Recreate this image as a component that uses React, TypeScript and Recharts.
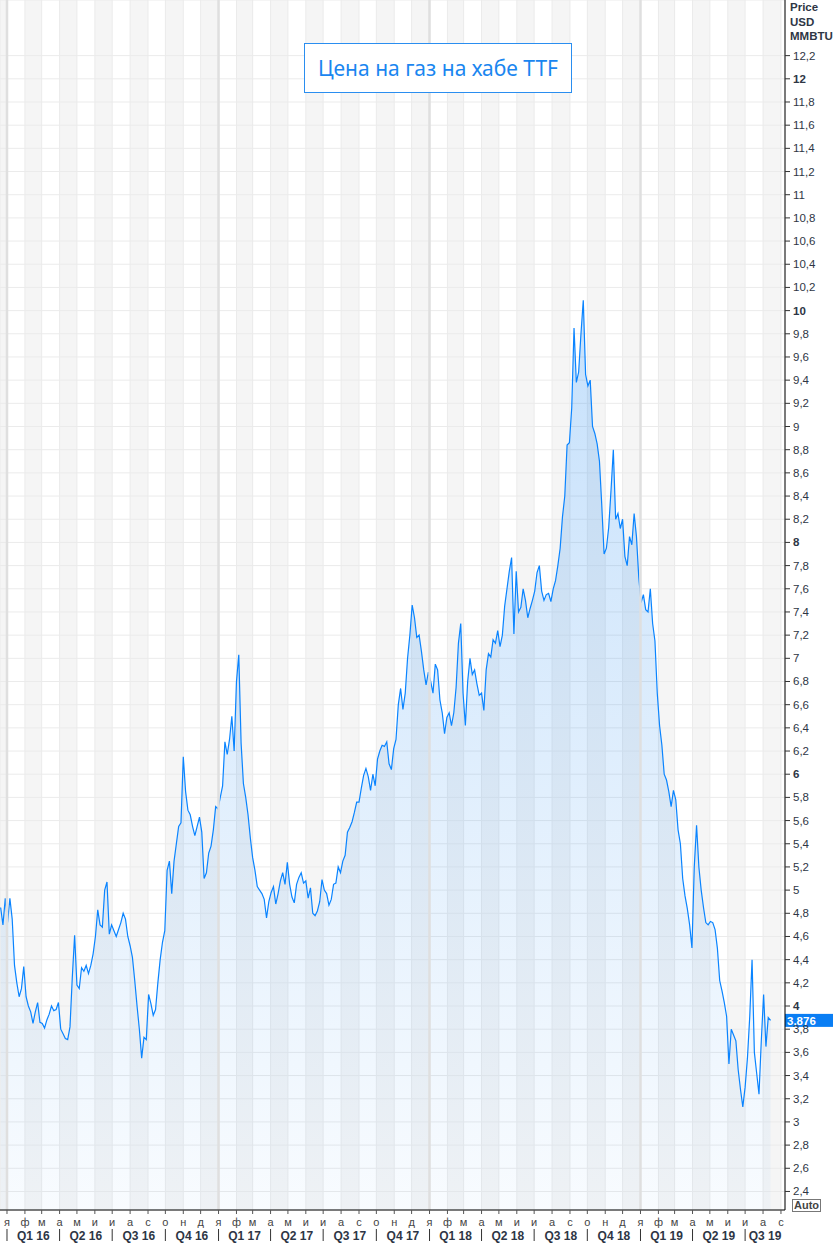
import { Area, AreaChart, CartesianGrid, ReferenceLine, XAxis, YAxis } from 'recharts';

const DAY_MS = 86400000;
const EPOCH = Date.UTC(2016, 0, 1);
const SERIES_START = Date.UTC(2015, 11, 21);
const STEP_DAYS = 4;

// TTF price, USD/MMBTU, one reading every 4 days from 21 Dec 2015
const prices2016 = [
  4.85, 4.7, 4.93, 4.72, 4.93, 4.75, 4.35, 4.2, 4.08, 4.15,
  4.34, 4.08, 4.0, 3.95, 3.85, 3.95, 4.03, 3.86, 3.85, 3.81,
  3.88, 3.93, 4.0, 3.96, 3.97, 4.03, 3.8, 3.76, 3.72, 3.71,
  3.82, 4.25, 4.61, 4.18, 4.15, 4.33, 4.3, 4.35, 4.28, 4.35,
  4.45, 4.6, 4.83, 4.7, 4.68, 5.0, 5.07, 4.62, 4.7, 4.65,
  4.6, 4.66, 4.72, 4.8, 4.75, 4.6, 4.52, 4.42, 4.22, 4.0,
  3.8, 3.55, 3.73, 3.71, 4.1, 4.02, 3.92, 3.97, 4.2, 4.4,
  4.55, 4.65, 5.17, 5.25, 4.97, 5.25, 5.4, 5.55, 5.58, 6.15,
  5.85, 5.69, 5.65, 5.55, 5.47, 5.55, 5.63, 5.5, 5.1, 5.15,
  5.32, 5.38, 5.52, 5.72, 5.7,
];
const prices2017 = [
  5.8, 5.9, 6.28, 6.17, 6.3,
  6.5, 6.2, 6.8, 7.03, 6.27, 5.92, 5.8, 5.65, 5.45, 5.28,
  5.17, 5.03, 5.0, 4.97, 4.92, 4.76, 4.9, 4.98, 5.03, 4.88,
  4.97, 5.08, 5.15, 5.05, 5.24, 5.05, 4.94, 4.89, 5.05, 5.11,
  5.15, 5.06, 5.08, 4.93, 5.02, 4.8, 4.78, 4.82, 4.9, 5.09,
  5.0, 4.97, 4.87, 4.92, 5.05, 5.06, 5.2, 5.15, 5.25, 5.3,
  5.5, 5.54, 5.59, 5.67, 5.76, 5.76, 5.88, 5.99, 6.05, 5.98,
  5.86, 6.0, 5.9, 6.13, 6.2, 6.25, 6.24, 6.28, 6.09, 6.04,
  6.22, 6.3, 6.6, 6.74, 6.56, 6.7, 7.0, 7.2, 7.46, 7.35,
  7.18, 7.2, 7.06, 6.9, 6.77, 6.88,
];
const prices2018 = [
  6.8, 6.7, 6.95, 6.9,
  6.64, 6.53, 6.35, 6.49, 6.53, 6.42, 6.53, 6.75, 7.13, 7.3,
  6.7, 6.42, 6.8, 7.0, 6.86, 6.9, 6.78, 6.68, 6.7, 6.55,
  6.9, 7.04, 7.01, 7.16, 7.13, 7.24, 7.1, 7.2, 7.45, 7.6,
  7.75, 7.87, 7.21, 7.75, 7.4, 7.44, 7.6, 7.5, 7.35, 7.43,
  7.5, 7.58, 7.74, 7.8, 7.58, 7.5, 7.55, 7.56, 7.49, 7.6,
  7.67, 7.8, 7.95, 8.22, 8.4, 8.84, 8.86, 9.16, 9.85, 9.38,
  9.47, 9.8, 10.09, 9.45, 9.35, 9.4, 9.0, 8.94, 8.85, 8.7,
  8.32, 7.9, 7.95, 8.13, 8.45, 8.8, 8.2, 8.25, 8.12, 8.2,
  7.88, 7.8, 8.05, 7.98, 8.25, 8.05, 7.7,
];
const prices2019 = [
  7.48, 7.55, 7.42,
  7.4, 7.6, 7.3, 7.15, 6.7, 6.42, 6.25, 6.0, 5.95, 5.85,
  5.72, 5.86, 5.78, 5.52, 5.4, 5.1, 4.95, 4.84, 4.7, 4.5,
  5.2, 5.56, 5.2, 5.0, 4.85, 4.72, 4.7, 4.73, 4.72, 4.66,
  4.5, 4.22, 4.13, 4.03, 3.91, 3.5, 3.8, 3.75, 3.7, 3.45,
  3.28, 3.13, 3.3, 3.55, 3.91, 4.4, 3.6, 3.42, 3.24, 3.7,
  4.1, 3.65, 3.9, 3.876,
];
const lastPrice = 3.876;

const monthLetters = ['я', 'ф', 'м', 'а', 'м', 'и', 'и', 'а', 'с', 'о', 'н', 'д'];
const quarterNames = ['Q1', 'Q2', 'Q3', 'Q4'];
const years = [2016, 2017, 2018, 2019];
const unitLines = ['Price', 'USD', 'MMBTU'];
const title = 'Цена на газ на хабе TTF';

const X_MIN = -12.1;
const X_MAX = 1346;
const Y_MIN = 2.24;
const Y_MAX = 12.68;

const dayOf = (y: number, m: number) => (Date.UTC(y, m, 1) - EPOCH) / DAY_MS;

const data = [...prices2016, ...prices2017, ...prices2018, ...prices2019].map((price, i) => ({
  day: (SERIES_START - EPOCH) / DAY_MS + i * STEP_DAYS,
  price,
}));

const monthTicks: number[] = [];
const quarterStarts: number[] = [];
const quarterMids: number[] = [];
const quarterLabelByDay: Record<string, string> = {};
years.forEach((y) => {
  for (let m = 0; m < 12; m++) {
    const d = dayOf(y, m);
    if (d <= X_MAX) monthTicks.push(d);
    if (m % 3 === 0 && d <= X_MAX) {
      quarterStarts.push(d);
      const mid = (d + Math.min(dayOf(y, m + 3), X_MAX)) / 2;
      quarterMids.push(mid);
      quarterLabelByDay[String(mid)] = `${quarterNames[m / 3]} ${String(y).slice(2)}`;
    }
  }
});
const quarterTicks = [...quarterStarts, ...quarterMids].sort((a, b) => a - b);

const priceTicks = Array.from({ length: 50 }, (_, i) => Math.round((2.4 + i * 0.2) * 10) / 10);

const FONT = '"Liberation Sans", Arial, sans-serif';

function formatPrice(v: number, digits = 1) {
  return Number.isInteger(v) ? String(v) : v.toFixed(digits).replace('.', ',');
}

function PriceTick({ x, y, payload }: any) {
  const v = payload.value;
  const bold = Number.isInteger(v) && v % 2 === 0;
  return (
    <text x={x} y={y} dy={4} fontSize={11.5} fontFamily={FONT} fontWeight={bold ? 700 : 400} fill="#2e3645">
      {formatPrice(v)}
    </text>
  );
}

function MonthTick({ x, y, payload }: any) {
  const m = new Date(EPOCH + payload.value * DAY_MS).getUTCMonth();
  return (
    <text x={x} y={y + 11} textAnchor="middle" fontSize={11} fontFamily={FONT} fill="#444">
      {monthLetters[m]}
    </text>
  );
}

function QuarterTick({ x, y, payload }: any) {
  const label = quarterLabelByDay[String(payload.value)];
  if (!label) {
    return <line x1={x} x2={x} y1={y + 5} y2={y + 17} stroke="#333" strokeWidth={1} />;
  }
  return (
    <text x={x} y={y + 16} textAnchor="middle" fontSize={12} fontWeight={700} fontFamily={FONT} fill="#2e3645">
      {label}
    </text>
  );
}

function LastPriceTag({ viewBox }: any) {
  const x = viewBox.x + viewBox.width;
  const y = viewBox.y;
  return (
    <g>
      <rect x={x} y={y - 6.5} width={48} height={13} fill="#0a7ef4" />
      <text x={x + 2} y={y + 4.5} fontSize={11.5} fontWeight={700} fontFamily={FONT} fill="#fff">
        {formatPrice(lastPrice, 3)}
      </text>
    </g>
  );
}

export default function App() {
  return (
    <div style={{ position: 'absolute', left: 0, top: 0, width: 833, height: 1244, background: '#fff', overflow: 'hidden' }}>
      <AreaChart width={833} height={1244} data={data} margin={{ top: 0, right: 0, bottom: 0, left: 0 }}>
        <defs>
          <linearGradient id="ttfFill" x1="0" y1="0" x2="0" y2="1">
            <stop offset="0%" stopColor="#1a85f0" stopOpacity={0.25} />
            <stop offset="100%" stopColor="#1a85f0" stopOpacity={0.03} />
          </linearGradient>
        </defs>
        <CartesianGrid
          xAxisId="m"
          stroke="#ebebeb"
          verticalFill={['#f5f5f5', '#ffffff']}
          fillOpacity={1}
        />
        <XAxis
          xAxisId="m"
          type="number"
          dataKey="day"
          domain={[X_MIN, X_MAX]}
          allowDataOverflow
          ticks={monthTicks}
          interval={0}
          height={14}
          tickSize={4}
          tickMargin={1}
          axisLine={{ stroke: '#000' }}
          tickLine={{ stroke: '#555' }}
          tick={<MonthTick />}
        />
        <XAxis
          xAxisId="q"
          type="number"
          dataKey="day"
          domain={[X_MIN, X_MAX]}
          allowDataOverflow
          ticks={quarterTicks}
          interval={0}
          height={20}
          tickSize={0}
          tickMargin={0}
          axisLine={false}
          tickLine={false}
          tick={<QuarterTick />}
        />
        <YAxis
          orientation="right"
          type="number"
          domain={[Y_MIN, Y_MAX]}
          allowDataOverflow
          ticks={priceTicks}
          interval={0}
          width={48}
          tickSize={5}
          tickMargin={3}
          axisLine={{ stroke: '#000' }}
          tickLine={{ stroke: '#333' }}
          tick={<PriceTick />}
        />
        {years.map((y) => (
          <ReferenceLine key={y} xAxisId="m" x={dayOf(y, 0)} stroke="#dfdfdf" strokeWidth={2.5} />
        ))}
        <Area
          xAxisId="m"
          type="linear"
          dataKey="price"
          stroke="#0a84ff"
          strokeWidth={1.2}
          fill="url(#ttfFill)"
          fillOpacity={1}
          dot={false}
          activeDot={false}
          isAnimationActive={false}
        />
        <ReferenceLine xAxisId="m" y={lastPrice} stroke="none" label={<LastPriceTag />} />
      </AreaChart>

      <div
        style={{
          position: 'absolute',
          left: 304,
          top: 43,
          width: 266,
          height: 48,
          border: '1px solid #2a8ef0',
          background: '#fff',
          color: '#1a86f0',
          fontFamily: '"Noto Sans", sans-serif',
          fontSize: 21,
          lineHeight: '48px',
          textAlign: 'center',
        }}
      >
        {title}
      </div>

      <div
        style={{
          position: 'absolute',
          left: 790,
          top: 0,
          fontFamily: FONT,
          fontSize: 11.5,
          fontWeight: 700,
          lineHeight: '14.5px',
          color: '#2e3645',
        }}
      >
        {unitLines.map((t) => (
          <div key={t}>{t}</div>
        ))}
      </div>

      <div
        style={{
          position: 'absolute',
          left: 792,
          top: 1199,
          width: 27,
          height: 11,
          border: '1px solid #777',
          background: '#fff',
          fontFamily: FONT,
          fontSize: 11,
          fontWeight: 700,
          lineHeight: '11px',
          color: '#444',
          textAlign: 'center',
        }}
      >
        Auto
      </div>
    </div>
  );
}
